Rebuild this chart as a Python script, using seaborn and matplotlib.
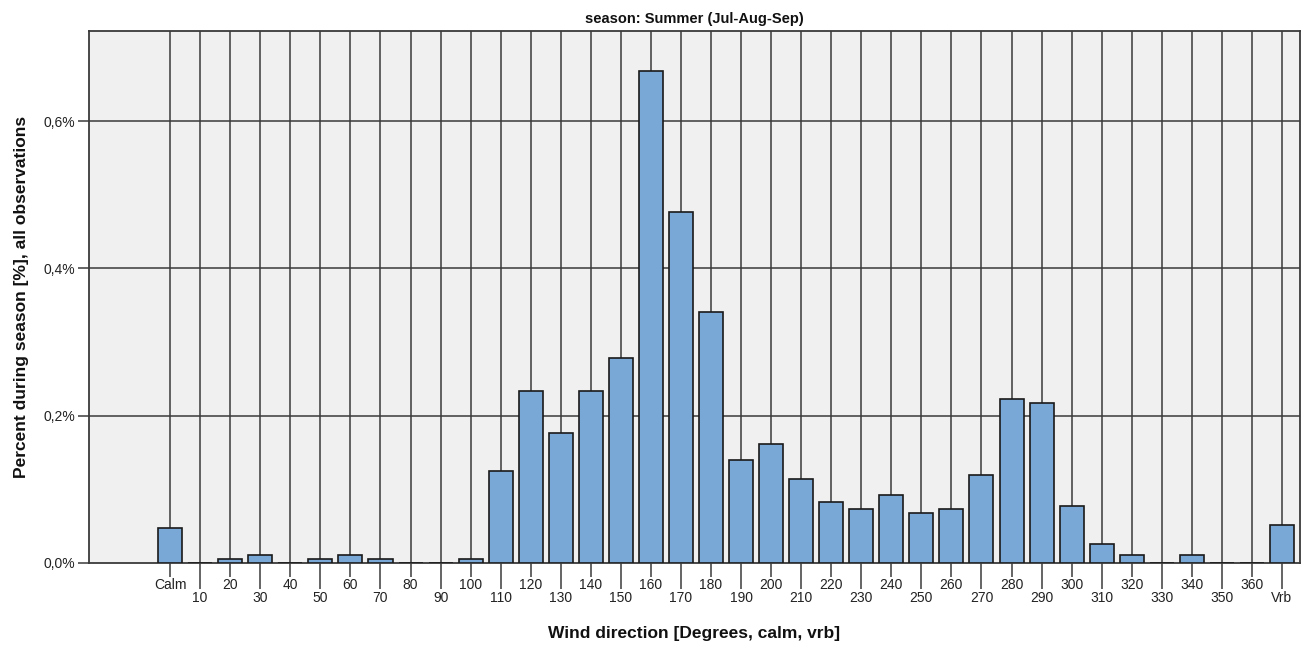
import matplotlib
matplotlib.use("Agg")
import matplotlib.pyplot as plt
import seaborn as sns
import pandas as pd
from matplotlib.ticker import FuncFormatter

categories = ["Calm"] + [str(d) for d in range(10, 370, 10)] + ["Vrb"]
values = [0.047, 0.0, 0.006, 0.011, 0.0, 0.006, 0.011, 0.006, 0.0, 0.0,
          0.006, 0.125, 0.2335, 0.1765, 0.233, 0.279, 0.668, 0.4766, 0.341,
          0.140, 0.161, 0.114, 0.083, 0.073, 0.093, 0.0675, 0.073, 0.119,
          0.2227, 0.217, 0.078, 0.026, 0.0105, 0.0, 0.0105, 0.0, 0.0, 0.0516]
yticks = [0.0, 0.2, 0.4, 0.6]
title = "season: Summer (Jul-Aug-Sep)"
xlabel = "Wind direction [Degrees, calm, vrb]"
ylabel = "Percent during season [%], all observations"

df = pd.DataFrame({"dir": categories, "pct": values})

sns.set_theme(style="white")
plt.rcParams["font.family"] = ["Liberation Sans", "DejaVu Sans"]
plt.rcParams["text.color"] = "#111111"
plt.rcParams["axes.labelcolor"] = "#111111"
plt.rcParams["xtick.color"] = "#222222"
plt.rcParams["ytick.color"] = "#222222"

fig = plt.figure(figsize=(13.11, 6.49), dpi=100)
ax = fig.add_axes([89/1311, 1-563/649, (1300-89)/1311, (563-31)/649])
ax.set_facecolor("#F0F0F0")

sns.barplot(data=df, x="dir", y="pct", order=categories, color="#7AA8D6",
            saturation=1, edgecolor="#1a1a1a", linewidth=1.2, width=0.8,
            ax=ax, zorder=3)

ax.set_xlim(-2.7, len(categories) - 1 + 0.6)
ax.set_ylim(0, 0.7224)

# vertical grid lines at each category
for i in range(len(categories)):
    ax.axvline(i, color="#3a3a3a", lw=1.1, zorder=1)
for yv in yticks[1:]:
    ax.axhline(yv, color="#3a3a3a", lw=1.1, zorder=1)

idx = list(range(len(categories)))
even = idx[0::2]
odd = idx[1::2]
ax.set_xticks(even, [categories[i] for i in even])
ax.set_xticks(odd, [categories[i] for i in odd], minor=True)
ax.tick_params(axis="x", which="major", length=10, width=1.1, color="#3a3a3a",
               labelsize=10, pad=1, direction="out", bottom=True)
ax.tick_params(axis="x", which="minor", length=19, width=1.1, color="#3a3a3a",
               labelsize=10, pad=1, direction="out", bottom=True)

ax.set_yticks(yticks)
ax.yaxis.set_major_formatter(FuncFormatter(lambda v, p: f"{v:.1f}%".replace(".", ",")))
ax.tick_params(axis="y", length=8, width=1.1, color="#3a3a3a", labelsize=10,
               pad=2, direction="out", left=True)

for s in ax.spines.values():
    s.set_color("#3a3a3a")
    s.set_linewidth(1.3)

ax.set_title(title, fontsize=10.5, fontweight="bold", pad=6)
ax.set_xlabel(xlabel, fontsize=12.5, fontweight="bold", labelpad=15)
ax.set_ylabel(ylabel, fontsize=12.5, fontweight="bold", labelpad=10)

fig.savefig("out.png", dpi=100)
